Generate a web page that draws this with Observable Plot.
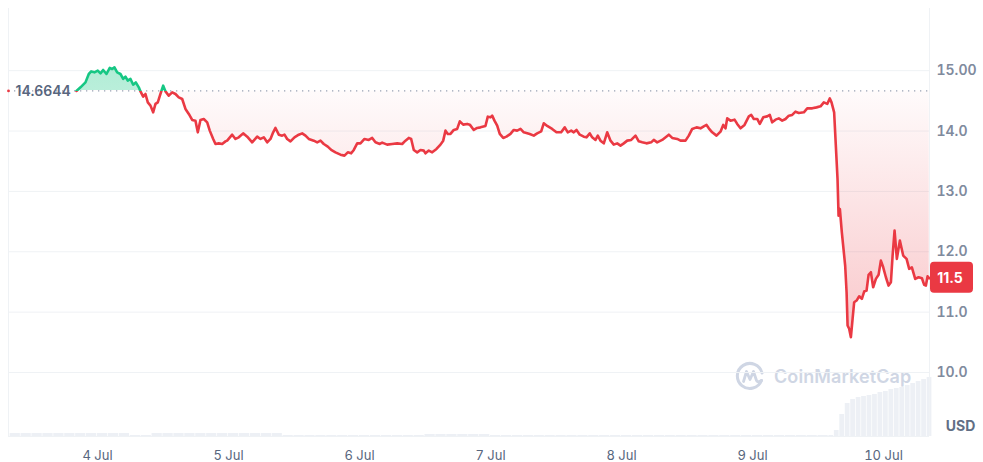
<!DOCTYPE html>
<html><head><meta charset="utf-8">
<script src="https://cdn.jsdelivr.net/npm/d3@7"></script>
<script src="https://cdn.jsdelivr.net/npm/@observablehq/plot@0.6"></script>
<style>
html,body{margin:0;padding:0;background:#fff;}
#wrap{position:relative;width:983px;height:462px;overflow:hidden;font-family:Inter,sans-serif;}
#wrap svg.layer{position:absolute;left:0;top:0;}
#wm{position:absolute;left:735px;top:361px;display:flex;align-items:center;gap:9px;color:#cfd6e4;font:600 18px Inter,sans-serif;letter-spacing:0.1px;}
</style></head><body><div id="wrap"></div>
<script>
// ---- data: hours after 4 Jul 00:00 UTC, price in USD
const hours = [
-3.85,-3.11,-2.20,-1.59,-1.15,-0.55,0.05,0.55,1.04,1.65,2.25,2.69,3.11,3.61,4.21,4.71,5.13,5.55,6.05,6.54,7.02,7.57,7.88,8.37,8.79,9.22,9.71,10.20,10.63,11.05,11.54,12.04,12.46,13.06,13.69,14.29,14.89,15.52,16.12,16.73,17.35,17.95,18.38,18.87,19.47,20.10,20.57,21.20,21.62,22.22,22.85,23.45,
23.76,24.68,25.28,25.89,26.69,27.43,28.34,29.26,29.86,30.47,31.09,31.70,32.19,32.61,33.22,33.84,34.26,34.75,35.36,36.09,36.88,37.50,38.11,38.71,39.63,40.25,40.86,41.46,42.19,42.82,43.60,44.52,45.25,45.86,46.48,46.96,47.58,48.18,48.92,49.70,50.33,50.93,51.72,
52.16,53.07,53.99,54.91,55.82,56.43,57.03,57.47,57.95,58.57,59.18,59.78,60.09,60.70,61.32,62.11,62.84,63.34,63.76,64.18,64.67,65.28,65.90,66.38,67.00,67.73,68.21,68.94,69.56,70.17,71.08,71.51,72.00,72.31,72.73,73.23,73.70,74.33,74.93,75.66,76.27,76.89,77.50,78.10,79.20,
79.93,80.55,81.29,81.76,82.39,83.30,84.09,84.95,85.61,86.16,86.79,87.26,87.76,88.36,89.09,89.59,90.19,90.63,91.24,91.66,92.15,92.76,93.38,93.99,94.59,95.21,95.82,96.42,97.05,97.78,98.57,99.17,99.80,100.58,101.44,101.92,102.54,103.46,104.67,105.29,106.21,106.81,
107.73,108.33,108.96,109.75,110.48,111.08,111.58,112.00,112.62,113.41,114.14,114.64,115.06,115.37,115.97,116.71,117.20,117.81,118.54,119.33,119.77,120.24,120.87,121.34,121.97,122.70,123.17,123.61,124.22,124.82,125.45,126.05,126.66,127.28,127.88,128.49,129.41,130.03,130.95,131.74,132.47,133.07,133.70,134.17,134.48,134.96,
135.27,135.58,135.77,136.01,136.37,136.98,137.24,137.42,137.71,138.03,138.34,138.63,139.07,139.55,140.04,140.46,140.90,141.27,141.69,142.11,142.61,143.10,143.52,143.95,144.44,144.93,145.36,145.67,146.03,146.45,147.00,147.61,148.23,148.71,149.20,149.81,150.43,151.04,151.46,151.77,152.08,152.38
];
const prices = [
14.6644,14.724,14.806,14.945,14.988,14.972,15.000,14.955,15.012,14.945,15.045,15.028,15.055,14.972,14.945,14.863,14.901,14.834,14.863,14.768,14.806,14.724,14.657,14.570,14.614,14.475,14.421,14.310,14.449,14.475,14.614,14.752,14.657,14.586,14.641,14.614,14.558,14.531,14.366,14.283,14.184,14.172,13.979,14.184,14.200,14.144,14.007,13.869,13.786,13.796,13.786,13.829,
13.841,13.940,13.869,13.896,13.962,13.907,13.813,13.907,13.869,13.896,13.813,13.869,13.979,14.051,13.940,13.924,13.940,13.869,13.829,13.896,13.940,13.962,13.924,13.869,13.841,13.813,13.841,13.786,13.742,13.687,13.647,13.609,13.593,13.647,13.631,13.687,13.796,13.796,13.869,13.853,13.886,13.813,13.786,
13.808,13.775,13.786,13.796,13.786,13.841,13.886,13.869,13.687,13.647,13.687,13.676,13.631,13.676,13.647,13.704,13.775,13.841,14.007,13.952,13.952,14.018,14.035,14.161,14.106,14.118,14.106,14.018,14.051,14.061,14.084,14.238,14.227,14.255,14.172,14.089,13.952,13.886,13.907,13.952,14.018,14.007,14.035,13.979,13.952,
13.924,13.962,13.995,14.128,14.084,14.035,13.979,13.979,14.061,13.979,14.007,13.979,14.018,13.940,13.907,13.896,13.962,13.896,13.853,13.924,13.841,13.796,13.979,13.841,13.775,13.796,13.758,13.796,13.841,13.853,13.924,13.829,13.813,13.796,13.813,13.853,13.813,13.853,13.940,13.886,13.869,13.841,
13.841,13.924,14.035,14.061,14.045,14.078,14.101,14.045,13.979,13.924,13.990,14.101,14.045,14.210,14.172,14.189,14.118,14.045,14.101,14.243,14.267,14.200,14.200,14.118,14.227,14.243,14.267,14.144,14.189,14.210,14.172,14.200,14.255,14.267,14.321,14.300,14.310,14.376,14.376,14.392,14.409,14.475,14.449,14.541,14.475,14.310,
13.758,13.207,12.599,12.710,12.323,11.772,11.330,10.778,10.724,10.585,10.889,11.164,11.192,11.263,11.220,11.341,11.358,11.618,11.661,11.412,11.551,11.618,11.854,11.743,11.578,11.440,11.495,11.937,12.351,11.883,12.185,11.937,11.883,11.717,11.743,11.551,11.578,11.561,11.452,11.440,11.595,11.561
];
const baseline = 14.6644;
const baselineLabel = "14.6644";
const lastLabel = "11.5";
const yTicks = [10, 11, 12, 13, 14, 15];
const yTickLabels = ["10.0", "11.0", "12.0", "13.0", "14.0", "15.00"];
const xTickDays = [4, 5, 6, 7, 8, 9, 10];
const xTickLabels = ["4 Jul", "5 Jul", "6 Jul", "7 Jul", "8 Jul", "9 Jul", "10 Jul"];
// volume bins (start hour) and relative volume
const volHours = [
-16,-14,-12,-10,-8,-6,-4,-2,0,2,4,6,8,10,12,14,16,18,20,22,24,26,28,30,32,34,36,38,40,42,44,46,48,50,52,54,56,58,60,62,64,66,68,70,72,74,76,78,80,82,84,86,88,90,92,94,96,98,100,102,104,106,108,110,112,114,116,118,120,122,124,126,128,130,132,
134,135,136,137,138,139,140,141,142,143,144,145,146,147,148,149,150,151,152
];
const volValues = [
3,3,3,3,3,3,3,3,3,3,3,1,1,3,3,3,3,3,3,3,3,3,3,3,3,1,1,1,1,1,1,1,1,1,1,1,1,1,2,2,2,2,2,2,1,1,1,1,1,1,1,1,1,1,1,1,1,1,1,1,1,1,1,1,1,1,1,1,1,1,1,1,1,1,1,
1,6,22,33,37,39,40,41,42,44,45,47,48,49,51,53,55,57,59
];

// ---- build
const t0 = Date.UTC(2024, 6, 4);
const toDate = h => new Date(t0 + h * 3600e3);
const data = hours.map((h, i) => ({date: toDate(h), price: prices[i]}));
const vol = volHours.map((h, i) => ({x1: toDate(h), x2: toDate(i + 1 < volHours.length ? volHours[i + 1] : h + 1), v: volValues[i]}));
const xTicks = xTickDays.map(d => new Date(Date.UTC(2024, 6, d)));
const W = 983, H = 462;
const xDomain = [toDate(-16.3), toDate(152.43)];
const yDomain = [8.94, 16.03];
const font = {fontFamily: "Inter, sans-serif", fontSize: "13px", background: "transparent", overflow: "visible"};

const volPlot = Plot.plot({
  width: W, height: H, marginLeft: 8, marginRight: 54, marginTop: 376, marginBottom: 26,
  style: font,
  x: {type: "utc", domain: xDomain, axis: null},
  y: {domain: [0, 60], axis: null},
  marks: [
    Plot.rectY(vol, {x1: "x1", x2: "x2", y: "v", fill: "#edf0f5", insetRight: 0.7})
  ]
});
volPlot.classList.add("layer");

const main = Plot.plot({
  width: W, height: H, marginLeft: 8, marginRight: 54, marginTop: 8, marginBottom: 26,
  style: font,
  x: {type: "utc", domain: xDomain},
  y: {domain: yDomain},
  marks: [
    Plot.ruleY(yTicks, {stroke: "#eff2f5"}),
    Plot.ruleY([yDomain[0]], {stroke: "#eff2f5"}),
    Plot.ruleX(xDomain, {stroke: "#eff2f5"}),
    Plot.areaY(data, {x: "date", y1: baseline, y2: "price", fill: "url(#cmcFill)"}),
    Plot.ruleY([baseline], {stroke: "#98a1b3", strokeDasharray: "1.3,4.7", strokeWidth: 1.3}),
    Plot.lineY(data, {x: "date", y: "price", stroke: "url(#cmcLine)", strokeWidth: 2.6, strokeLinejoin: "round"}),
    Plot.dot([baseline], {x: () => xDomain[0], y: d => d, r: 1.4, fill: "#ea3943"}),
    Plot.text([baseline], {x: () => xDomain[0], y: d => d, text: () => baselineLabel, textAnchor: "start", dx: 7, dy: 1, fontSize: 14, fontWeight: 600, fill: "#58667e"}),
    Plot.axisY(yTicks, {anchor: "right", label: null, tickSize: 0, tickPadding: 7, tickFormat: d => yTickLabels[yTicks.indexOf(d)]}),
    Plot.axisX(xTicks, {label: null, tickSize: 0, tickPadding: 14, tickFormat: d => xTickLabels[xTicks.findIndex(t => +t === +d)]}),
    Plot.text(["USD"], {frameAnchor: "bottom-right", text: d => d, textAnchor: "middle", dx: 31, dy: -6, fontSize: 14, fontWeight: 700, fill: "#616e85"})
  ]
});
main.classList.add("layer");

const wrap = document.getElementById("wrap");
wrap.appendChild(volPlot);
const wm = document.createElement("div");
wm.id = "wm";
wm.innerHTML = '<svg width="30" height="30" viewBox="0 0 30 30"><path d="M26.5 19.5 A12.5 12.5 0 1 1 27 12" fill="none" stroke="#cfd6e4" stroke-width="3" stroke-linecap="round"/><path d="M8.5 20.5 L11.5 10.5 L15 18.5 L18.5 10.5 L21.5 19.5 Q23 22 26.5 19.5" fill="none" stroke="#cfd6e4" stroke-width="2.8" stroke-linejoin="round" stroke-linecap="round"/></svg><span>CoinMarketCap</span>';
wrap.appendChild(wm);
wrap.appendChild(main);

// post styling + gradients computed from Plot's own scales
const svg = d3.select(main);
svg.selectAll('g[aria-label="x-axis tick label"]').attr("fill", "#58667e").attr("font-size", 13);
svg.selectAll('g[aria-label="y-axis tick label"]').attr("fill", "#808a9d").attr("font-weight", 600).attr("font-size", 14);
const ys = main.scale("y");
const yb = ys.apply(baseline) / H;
const yMinPx = ys.apply(d3.min(prices)) / H;
const defs = svg.insert("defs", ":first-child");
const lg = defs.append("linearGradient").attr("id", "cmcLine").attr("gradientUnits", "userSpaceOnUse")
  .attr("x1", 0).attr("x2", 0).attr("y1", 0).attr("y2", H);
lg.append("stop").attr("offset", yb).attr("stop-color", "#16c784");
lg.append("stop").attr("offset", yb).attr("stop-color", "#ea3943");
const fg = defs.append("linearGradient").attr("id", "cmcFill").attr("gradientUnits", "userSpaceOnUse")
  .attr("x1", 0).attr("x2", 0).attr("y1", 0).attr("y2", H);
fg.append("stop").attr("offset", 0.1).attr("stop-color", "#16c784").attr("stop-opacity", 0.36);
fg.append("stop").attr("offset", yb).attr("stop-color", "#16c784").attr("stop-opacity", 0.3);
fg.append("stop").attr("offset", yb).attr("stop-color", "#ea3943").attr("stop-opacity", 0.02);
fg.append("stop").attr("offset", yMinPx).attr("stop-color", "#ea3943").attr("stop-opacity", 0.28);
// current price badge
const xr = main.scale("x").range[1];
const yl = ys.apply(prices[prices.length - 1]);
const badge = svg.append("g");
badge.append("rect").attr("x", xr + 1).attr("y", yl - 16).attr("width", 43).attr("height", 31).attr("rx", 4).attr("fill", "#ea3943");
badge.append("text").attr("x", xr + 21).attr("y", yl).attr("dy", "0.35em").attr("text-anchor", "middle")
  .attr("fill", "#fff").attr("font-weight", 700).attr("font-size", 14).attr("font-family", "Inter, sans-serif").text(lastLabel);
</script>
</body></html>
